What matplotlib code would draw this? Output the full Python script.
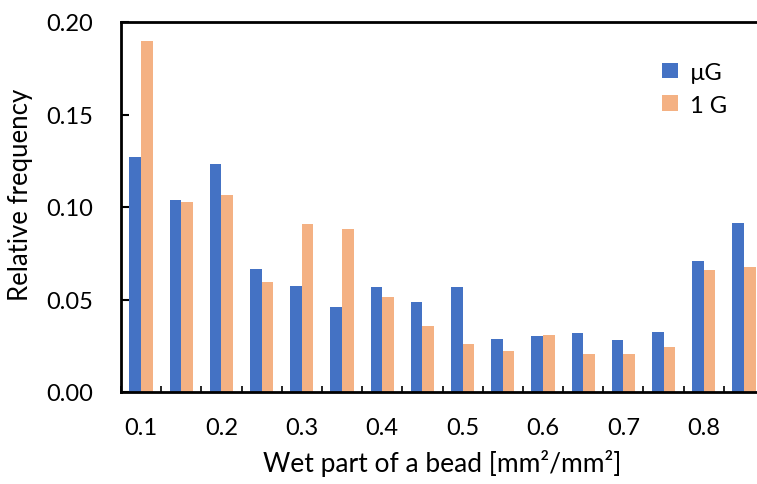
import matplotlib
matplotlib.use("Agg")
import matplotlib.pyplot as plt
import numpy as np

plt.rcParams["font.family"] = ["Lato", "DejaVu Sans"]

# wet-part bins (only every other one is labelled on the axis)
categories = ["0.1", "", "0.2", "", "0.3", "", "0.4", "",
              "0.5", "", "0.6", "", "0.7", "", "0.8", ""]

# relative frequencies
micro_g = [0.127, 0.104, 0.123, 0.0665, 0.0575, 0.046, 0.0568, 0.0485,
           0.0568, 0.0288, 0.0304, 0.0317, 0.0279, 0.0323, 0.0708, 0.0914]
one_g = [0.190, 0.1027, 0.1063, 0.0593, 0.091, 0.0879, 0.0514, 0.0355,
         0.0258, 0.0223, 0.0308, 0.0205, 0.0204, 0.0243, 0.0659, 0.0677]

series_labels = ["\u00b5G", "1 G"]
colors = ["#4472C4", "#F4B183"]

fig = plt.figure(figsize=(7.57, 4.85), dpi=100)
ax = fig.add_axes([121 / 757, 92 / 485, 643 / 757, 370 / 485])

x = np.arange(len(categories))
w = 0.29
ax.bar(x - w / 2, micro_g, w, color=colors[0], label=series_labels[0], zorder=2)
ax.bar(x + w / 2, one_g, w, color=colors[1], label=series_labels[1], zorder=2)

ax.set_xlim(-0.5, len(categories) - 0.5)
ax.set_ylim(0, 0.20)

ax.set_xticks(x)
ax.set_xticklabels(categories)
ax.set_xticks(np.arange(len(categories) + 1) - 0.5, minor=True)
ax.tick_params(axis="x", which="major", length=0, pad=18, labelsize=17)
ax.tick_params(axis="x", which="minor", direction="in", length=4.5, width=1.2)

ax.set_yticks([0.0, 0.05, 0.10, 0.15, 0.20])
ax.set_yticklabels([f"{v:.2f}" for v in [0.0, 0.05, 0.10, 0.15, 0.20]])
ax.tick_params(axis="y", direction="in", length=6, width=1.5, pad=20,
               labelsize=17)

for side in ["left", "bottom", "top", "right"]:
    ax.spines[side].set_linewidth(2)
    ax.spines[side].set_zorder(3)

ax.set_xlabel("Wet part of a bead [mm\u00b2/mm\u00b2]", fontsize=19, labelpad=8)
ax.set_ylabel("Relative frequency", fontsize=18.5)
ax.yaxis.set_label_coords(-0.137, 0.535)

ax.legend(loc="upper right", bbox_to_anchor=(0.975, 0.95), frameon=False,
          fontsize=17, handlelength=0.65, handleheight=0.65,
          handletextpad=0.5, labelspacing=0.5)

fig.savefig("out.png", dpi=100)
